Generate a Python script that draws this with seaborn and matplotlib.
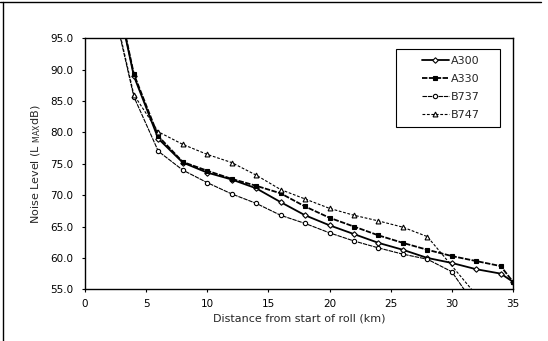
import matplotlib
matplotlib.use("Agg")
import matplotlib.pyplot as plt
import seaborn as sns
import pandas as pd
from matplotlib.lines import Line2D
from matplotlib.legend_handler import HandlerLine2D
from matplotlib.ticker import FormatStrFormatter

# ---- data ----
a300_x = [3, 4, 6, 8, 10, 12, 14, 16, 18, 20, 22, 24, 26, 28, 30, 32, 34, 35]
a300_y = [98.1, 89.0, 79.0, 75.2, 73.6, 72.5, 71.1, 68.9, 66.8, 65.2, 63.8, 62.4, 61.3, 60.0, 59.2, 58.2, 57.5, 56.2]

a330_x = [3, 4, 6, 8, 10, 12, 14, 16, 18, 20, 22, 24, 26, 28, 30, 32, 34, 35]
a330_y = [98.4, 89.3, 79.4, 75.3, 73.9, 72.6, 71.5, 70.3, 68.2, 66.4, 65.0, 63.6, 62.4, 61.3, 60.3, 59.5, 58.7, 56.2]

b737_x = [2.5, 4, 6, 8, 10, 12, 14, 16, 18, 20, 22, 24, 26, 28, 30, 32]
b737_y = [98.5, 85.7, 77.0, 74.0, 72.0, 70.2, 68.7, 66.8, 65.5, 64.0, 62.7, 61.6, 60.6, 59.8, 57.8, 52.2]

b747_x = [2.5, 4, 6, 8, 10, 12, 14, 16, 18, 20, 22, 24, 26, 28, 32]
b747_y = [98.8, 86.0, 80.1, 78.1, 76.5, 75.2, 73.2, 70.9, 69.4, 67.9, 66.8, 65.9, 64.9, 63.4, 54.1]

series_names = ["A300", "A330", "B737", "B747"]
x_ticks = [0, 5, 10, 15, 20, 25, 30, 35]
y_ticks = [55, 60, 65, 70, 75, 80, 85, 90, 95]

sns.set_style("ticks")
plt.rcParams["font.family"] = ["DejaVu Sans"]
plt.rcParams["mathtext.fontset"] = "dejavusans"

fig = plt.figure(figsize=(5.48, 3.41), dpi=100)
ax = fig.add_axes([0.155, 0.1516, 0.781, 0.736])

styles = {
    "A300": dict(marker="D", markersize=2.8, markerfacecolor="white", linestyle="-", linewidth=1.3),
    "A330": dict(marker="s", markersize=3.0, markerfacecolor="black", linestyle=(0, (3, 0.8)), linewidth=1.3),
    "B737": dict(marker="o", markersize=3.1, markerfacecolor="white", linestyle=(0, (4, 0.8)), linewidth=0.8),
    "B747": dict(marker="^", markersize=3.5, markerfacecolor="white", linestyle=(0, (2.5, 1.5)), linewidth=0.8),
}
data = {
    "A300": (a300_x, a300_y),
    "A330": (a330_x, a330_y),
    "B737": (b737_x, b737_y),
    "B747": (b747_x, b747_y),
}
for name in series_names:
    xs, ys = data[name]
    df = pd.DataFrame({"x": xs, "y": ys})
    sns.lineplot(data=df, x="x", y="y", ax=ax, sort=False, estimator=None,
                 color="black", markeredgecolor="black", markeredgewidth=0.8,
                 label=name, **styles[name])

ax.set_xlim(0, 35)
ax.set_ylim(55, 95)
ax.set_xticks(x_ticks)
ax.set_yticks(y_ticks)
ax.yaxis.set_major_formatter(FormatStrFormatter("%.1f"))
ax.tick_params(axis="both", direction="out", length=2.5, width=0.8, labelsize=7.5,
               colors="black")
ax.tick_params(axis="y", pad=6)
ax.tick_params(axis="x", pad=4.5)
for sp in ax.spines.values():
    sp.set_visible(True)
    sp.set_color("black")
    sp.set_linewidth(1.0)

ax.set_xlabel("Distance from start of roll (km)", fontsize=8, labelpad=3)
ax.set_ylabel(r"Noise Level (L $_{\rm MAX}$dB)", fontsize=8, labelpad=5)

leg = ax.legend(loc="upper left", bbox_to_anchor=(0.7266, 0.641, 0.243, 0.315),
                mode="expand", fontsize=8,
                frameon=True, fancybox=False, edgecolor="black", framealpha=1,
                handlelength=4.15, labelspacing=0.72, borderpad=0.62,
                handletextpad=0.2, borderaxespad=0,
                handler_map={Line2D: HandlerLine2D(xpad=1.7)})
leg.get_frame().set_linewidth(0.8)

# outer chart-area frame (left and top edges visible in the scan)
fig.add_artist(Line2D([0.005, 0.005], [0.0, 0.993], transform=fig.transFigure,
                      color="black", linewidth=1.0))
fig.add_artist(Line2D([0.0, 0.988], [0.993, 0.993], transform=fig.transFigure,
                      color="black", linewidth=1.0))

fig.savefig("out.png", dpi=100)
